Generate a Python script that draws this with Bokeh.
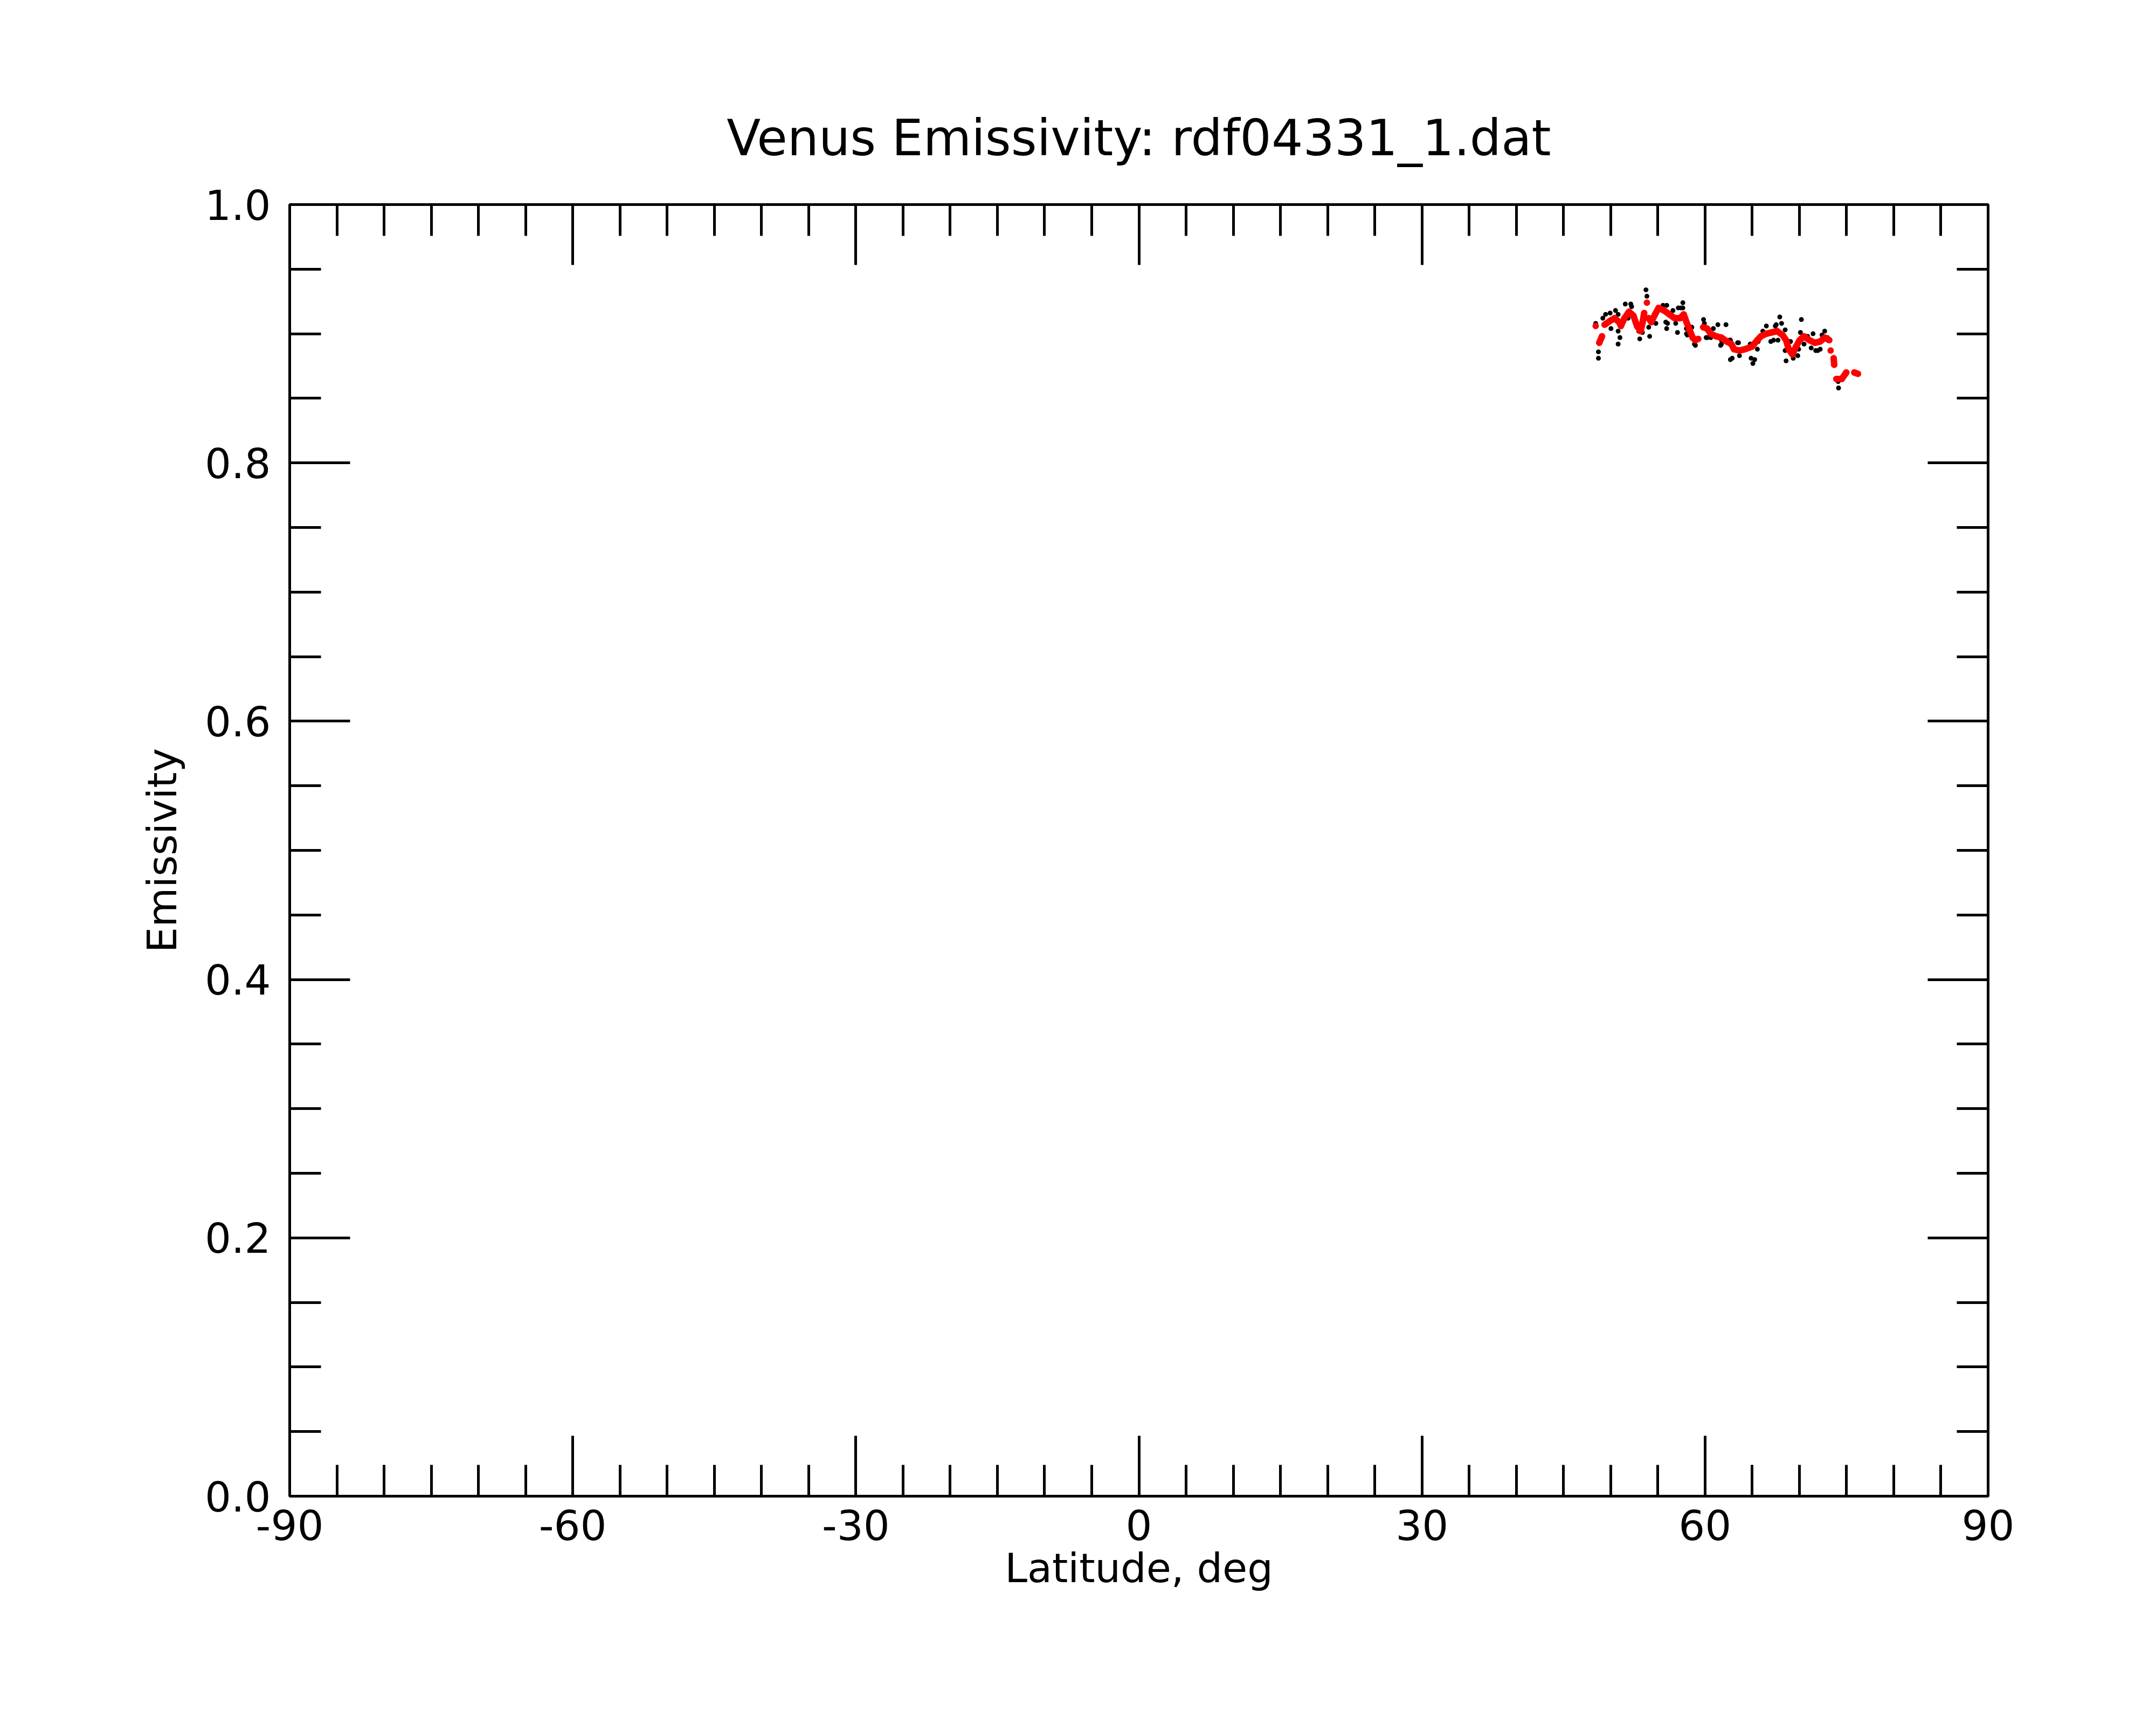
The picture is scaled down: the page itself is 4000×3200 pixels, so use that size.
import numpy as np
from bokeh.plotting import figure
from bokeh.models import Range1d, LinearAxis, FixedTicker, ColumnDataSource
from bokeh.embed import file_html
from bokeh.resources import INLINE

nan = float("nan")

# ---- data ----
obs_lat = [48.41, 48.70, 48.70, 49.17, 49.46, 49.94, 50.03, 50.51, 50.79, 50.79,
           50.98, 50.79, 51.55, 51.74, 51.84, 52.13, 52.22, 52.98, 53.08, 53.36,
           53.74, 53.84, 54.03, 54.13, 54.51, 54.79, 55.08, 55.55, 55.84, 55.93,
           55.94, 56.03, 56.60, 56.89, 57.08, 57.17, 57.46, 57.65, 57.65, 58.03,
           58.03, 58.12, 58.60, 58.88, 58.98, 59.84, 59.93, 60.12, 60.22, 60.60,
           60.88, 61.36, 61.65, 61.74, 61.74, 62.22, 62.60, 62.69, 62.69, 62.88,
           63.45, 63.55, 63.65, 64.79, 64.88, 65.07, 65.26, 65.55, 65.64, 66.12,
           66.50, 66.97, 67.26, 67.45, 67.54, 67.73, 67.92, 68.11, 68.49, 68.49,
           68.59, 69.06, 69.35, 69.83, 69.92, 70.11, 70.21, 70.49, 70.87, 71.25,
           71.45, 71.73, 71.95, 72.21, 72.40, 72.68, 72.97, 74.11, 74.15]
obs_emis = [0.908, 0.886, 0.881, 0.912, 0.915, 0.916, 0.904, 0.918, 0.915, 0.902,
            0.897, 0.892, 0.923, 0.916, 0.912, 0.923, 0.921, 0.902, 0.896, 0.901,
            0.934, 0.929, 0.905, 0.898, 0.912, 0.908, 0.920, 0.922, 0.909, 0.904,
            0.922, 0.908, 0.918, 0.908, 0.901, 0.920, 0.920, 0.924, 0.920, 0.904,
            0.900, 0.899, 0.905, 0.892, 0.891, 0.911, 0.908, 0.897, 0.897, 0.897,
            0.904, 0.907, 0.891, 0.895, 0.892, 0.907, 0.895, 0.895, 0.880, 0.881,
            0.893, 0.893, 0.883, 0.892, 0.881, 0.877, 0.880, 0.888, 0.894, 0.902,
            0.906, 0.894, 0.895, 0.906, 0.907, 0.895, 0.913, 0.908, 0.903, 0.887,
            0.879, 0.894, 0.881, 0.883, 0.888, 0.901, 0.911, 0.892, 0.898, 0.889,
            0.900, 0.887, 0.887, 0.888, 0.899, 0.902, 0.897, 0.863, 0.858]

# smoothed series (nan = gap between runs)
smooth_lat = [48.41, nan,
              48.79, 49.08, nan,
              49.36, 49.94, 50.41, 50.89, 51.08, 51.46, 51.94, 52.41, 52.79, 53.17, 53.36, 53.55, nan,
              53.84, nan,
              54.03, 54.31, 54.70, 55.08, 55.65, 56.22, 56.79, 57.36, 57.74, 58.03, 58.31, 58.69, 58.98, 59.27, nan,
              59.80, 60.22, 60.60, 61.17, 61.74, 62.31, 62.79, 63.07, 63.65, 64.22, 64.97, 65.54, 65.92, 66.49,
              67.07, 67.64, 68.21, 68.59, 68.87, 69.26, 69.64, 70.02, 70.49, 71.06, 71.64, 72.21, 72.68, 73.16, nan,
              73.31, nan,
              73.63, 73.69, nan,
              73.92, 74.20, 74.49, 74.97, nan,
              75.82, 76.20]
smooth_emis = [0.906, nan,
               0.893, 0.898, nan,
               0.907, 0.910, 0.912, 0.909, 0.906, 0.912, 0.917, 0.914, 0.906, 0.902, 0.908, 0.916, nan,
               0.924, nan,
               0.912, 0.909, 0.915, 0.920, 0.918, 0.915, 0.912, 0.912, 0.915, 0.909, 0.904, 0.897, 0.895, 0.896, nan,
               0.905, 0.904, 0.900, 0.898, 0.897, 0.894, 0.892, 0.888, 0.887, 0.888, 0.890, 0.895, 0.898, 0.900,
               0.901, 0.902, 0.899, 0.895, 0.888, 0.884, 0.890, 0.895, 0.898, 0.895, 0.893, 0.894, 0.897, 0.895, nan,
               0.887, nan,
               0.881, 0.876, nan,
               0.865, 0.865, 0.865, 0.870, nan,
               0.870, 0.869]

x_major = [-90, -60, -30, 0, 30, 60, 90]
x_minor = list(range(-90, 91, 5))
y_major = [0.0, 0.2, 0.4, 0.6, 0.8, 1.0]
y_minor = [round(0.05 * i, 2) for i in range(21)]
y_labels = ["0.0", "0.2", "0.4", "0.6", "0.8", "1.0"]

FONT = "DejaVu Sans"

p = figure(frame_width=3151, frame_height=2396,
           min_border_left=537, min_border_right=296,
           min_border_top=379, min_border_bottom=409,
           x_range=Range1d(-90, 90), y_range=Range1d(0, 1),
           x_axis_location=None, y_axis_location=None,
           output_backend="svg", toolbar_location=None,
           background_fill_color="white", border_fill_color="white")
p.grid.visible = False
p.outline_line_color = "black"
p.outline_line_width = 5

p.title.text = "Venus Emissivity: rdf04331_1.dat"
p.title.align = "center"
p.title.text_font = FONT
p.title.text_font_size = "92px"
p.title.text_font_style = "normal"
p.title.text_color = "black"
p.title.standoff = 140


def style_axis(ax, major, minor, show_labels, overrides=None):
    ax.ticker = FixedTicker(ticks=major, minor_ticks=minor)
    ax.axis_line_width = 5
    ax.axis_line_color = "black"
    ax.major_tick_in = 112
    ax.major_tick_out = 0
    ax.minor_tick_in = 58
    ax.minor_tick_out = 0
    ax.major_tick_line_width = 5
    ax.minor_tick_line_width = 5
    ax.major_tick_line_color = "black"
    ax.minor_tick_line_color = "black"
    ax.major_label_text_font = FONT
    ax.axis_label_text_font = FONT
    ax.axis_label_text_font_style = "normal"
    ax.axis_label_text_color = "black"
    ax.major_label_text_color = "black"
    if show_labels:
        ax.major_label_text_font_size = "77px"
        ax.axis_label_text_font_size = "75px"
        if overrides:
            ax.major_label_overrides = overrides
    else:
        ax.major_label_text_font_size = "0px"
        ax.major_label_standoff = 0
        ax.major_label_overrides = {t: "" for t in major}


xb = LinearAxis(axis_label="Latitude, deg")
style_axis(xb, x_major, x_minor, True, {v: str(v) for v in x_major})
xb.major_label_standoff = 25
xb.axis_label_standoff = 5
p.add_layout(xb, "below")

yl = LinearAxis(axis_label="Emissivity")
style_axis(yl, y_major, y_minor, True, {v: s for v, s in zip(y_major, y_labels)})
yl.major_label_standoff = 35
yl.axis_label_standoff = 32
p.add_layout(yl, "left")

xt = LinearAxis()
style_axis(xt, x_major, x_minor, False)
p.add_layout(xt, "above")

yr = LinearAxis()
style_axis(yr, y_major, y_minor, False)
p.add_layout(yr, "right")

obs = ColumnDataSource(dict(lat=obs_lat, emis=obs_emis))
sm = ColumnDataSource(dict(lat=np.array(smooth_lat, dtype=float),
                           emis=np.array(smooth_emis, dtype=float)))

p.scatter("lat", "emis", source=obs, size=9, color="black", line_width=0)
p.line("lat", "emis", source=sm, line_width=12, color="red",
       line_join="round", line_cap="round")
p.scatter("lat", "emis", source=sm, size=12, color="red", line_width=0)

open("out.html", "w").write(file_html(p, INLINE))
